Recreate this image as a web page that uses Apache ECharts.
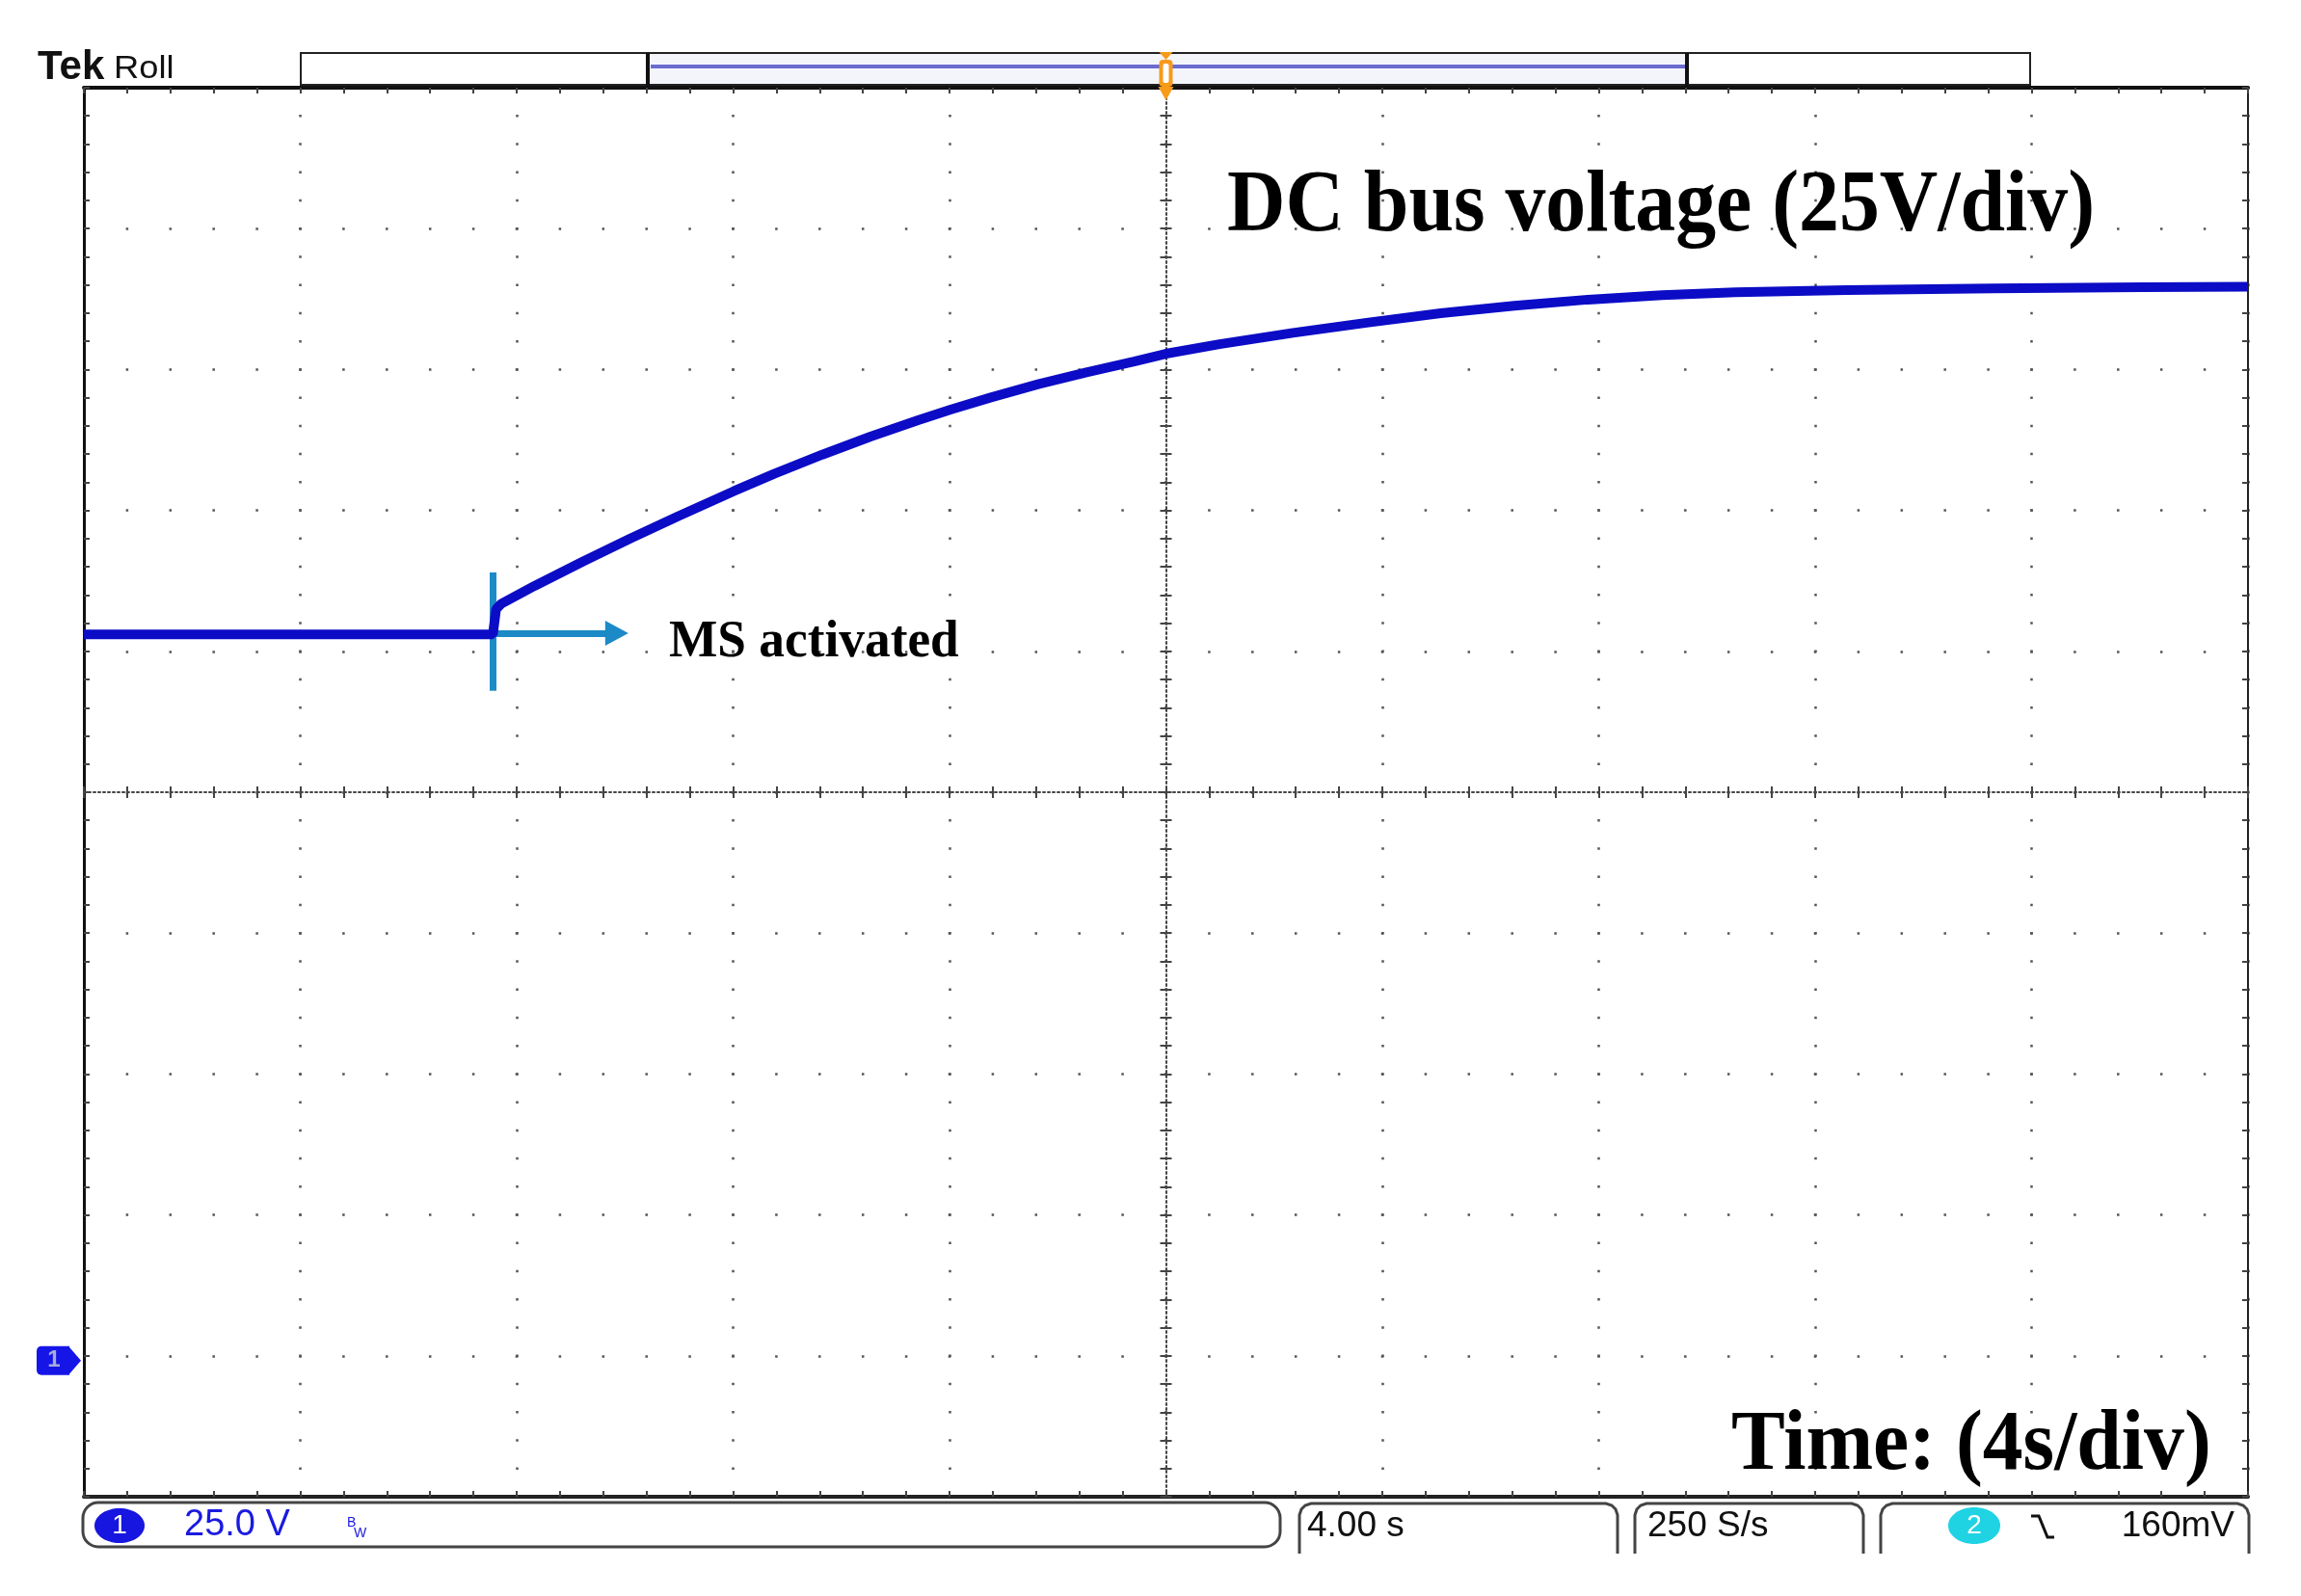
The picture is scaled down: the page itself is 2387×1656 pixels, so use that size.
<!DOCTYPE html>
<html>
<head>
<meta charset="utf-8">
<script src="https://cdn.jsdelivr.net/npm/echarts@6/dist/echarts.min.js"></script>
<style>
html, body { margin: 0; padding: 0; background: #fff; }
#scope { width: 2387px; height: 1656px; }
</style>
</head>
<body>
<div id="scope"></div>
<script>
// trace: time in s (4 s/div), DC bus in V (25 V/div)
const timeS = [0, 2, 4, 6, 7.56, 7.62, 7.71, 8.33, 9.22, 10.1, 10.99, 12.01, 12.76, 13.65, 14.54,
  15.42, 16.02, 16.75, 17.64, 18.53, 19.41, 20.0, 20.99, 22.35, 23.71, 25.08, 26.44, 27.8,
  29.17, 30.53, 32.58, 35.3, 38.03, 40];
const busV = [128, 128, 128, 128, 128, 132.5, 133.4, 136.6, 140.9, 145.0, 149.0, 153.4, 156.5, 159.9, 163.1,
  166.0, 167.9, 170.0, 172.4, 174.5, 176.4, 177.8, 179.5, 181.5, 183.3, 185.0, 186.3, 187.4,
  188.2, 188.7, 189.1, 189.4, 189.6, 189.7];

// screen scale: 10 div across, ground marker 4 div under centre
const xRange = [0, 40, 4];
const yRange = [-25, 225, 25];

// "MS activated" marker
const msTime = 7.56;
const msLevel = 128.2;
const msBar = [118, 139];
const msArrowEnd = 9.85;
const triggerTime = 20;

const G = { left: 87, top: 91, width: 2245, height: 1462 };
const minorX = G.width / 50;
const minorY = G.height / 50;
const tickStyle = { color: '#444', width: 2 };

function xAx(position, offset, line, inside, split) {
  return {
    type: 'value', min: xRange[0], max: xRange[1], interval: xRange[2],
    position: position, offset: offset,
    axisLabel: { show: false },
    axisLine: line ? { show: true, onZero: false, lineStyle: line } : { show: false, onZero: false },
    axisTick: { show: true, inside: inside, length: 6, lineStyle: tickStyle },
    minorTick: { show: true, splitNumber: 5, length: 6, lineStyle: tickStyle },
    splitLine: split ? {
      show: true,
      lineStyle: { color: '#555', width: 2.5, type: [2.5, minorY - 2.5], dashOffset: 1.25 }
    } : { show: false }
  };
}

function yAx(position, offset, line, inside, split) {
  return {
    type: 'value', min: yRange[0], max: yRange[1], interval: yRange[2],
    position: position, offset: offset,
    axisLabel: { show: false },
    axisLine: line ? { show: true, onZero: false, lineStyle: line } : { show: false, onZero: false },
    axisTick: { show: true, inside: inside, length: 6, lineStyle: tickStyle },
    minorTick: { show: true, splitNumber: 5, length: 6, lineStyle: tickStyle },
    splitLine: split ? {
      show: true,
      lineStyle: { color: '#555', width: 2.5, type: [2.5, minorX - 2.5], dashOffset: 1.25 }
    } : { show: false }
  };
}

const centreLine = { color: '#444', width: 2, type: [2, 3] };

const chart = echarts.init(document.getElementById('scope'));

chart.setOption({
  animation: false,
  backgroundColor: '#fff',
  grid: G,
  xAxis: [
    xAx('bottom', 0, { color: '#222', width: 4 }, true, true),
    xAx('top', 0, { color: '#111', width: 4 }, true, false),
    xAx('bottom', -G.height / 2, centreLine, true, false),
    xAx('bottom', -G.height / 2, null, false, false)
  ],
  yAxis: [
    yAx('left', 0, { color: '#111', width: 3 }, true, true),
    yAx('right', 0, { color: '#222', width: 2 }, true, false),
    yAx('left', -G.width / 2, centreLine, true, false),
    yAx('left', -G.width / 2, null, false, false)
  ],
  series: [{
    type: 'line',
    xAxisIndex: 0,
    yAxisIndex: 0,
    data: timeS.map((t, i) => [t, busV[i]]),
    showSymbol: false,
    lineStyle: { color: '#0c0cc6', width: 10 },
    z: 5,
    markLine: {
      silent: true,
      label: { show: false },
      lineStyle: { color: '#1b8ac6', width: 7, type: 'solid' },
      data: [
        [{ coord: [msTime, msBar[0]], symbol: 'none' }, { coord: [msTime, msBar[1]], symbol: 'none' }],
        [{ coord: [msTime, msLevel], symbol: 'none' },
         { coord: [msArrowEnd, msLevel], symbol: 'triangle', symbolSize: [26, 24] }]
      ]
    }
  }]
});

const trig = chart.convertToPixel({ seriesIndex: 0 }, [triggerTime, 0]);
const tx = trig[0];
const gy = trig[1] + 5;
const serif = '"Liberation Serif", "Times New Roman", serif';
const sans = '"Liberation Sans", Arial, sans-serif';

chart.setOption({
  graphic: [
    // header
    { type: 'text', x: 39, y: 70, style: { text: 'Tek', font: 'bold 42px ' + sans, fill: '#111', verticalAlign: 'middle' } },
    { type: 'text', x: 118, y: 72, style: { text: 'Roll', font: '33px ' + sans, fill: '#111', verticalAlign: 'middle' }, scaleX: 1.1 },
    { type: 'rect', shape: { x: 312, y: 55, width: 1794, height: 33 }, style: { fill: '#fff', stroke: '#222', lineWidth: 2 } },
    { type: 'rect', shape: { x: 673, y: 56, width: 1077, height: 31 }, style: { fill: '#f3f5fb' } },
    { type: 'line', shape: { x1: 675, y1: 69, x2: 1748, y2: 69 }, style: { stroke: '#6b6bd0', lineWidth: 4 } },
    { type: 'rect', shape: { x: 670, y: 55, width: 4, height: 34 }, style: { fill: '#111' } },
    { type: 'rect', shape: { x: 1748, y: 55, width: 4, height: 34 }, style: { fill: '#111' } },
    // trigger position marker
    { type: 'polygon', shape: { points: [[tx - 7, 54], [tx + 7, 54], [tx, 62]] }, style: { fill: '#f79a1a' }, z: 20 },
    { type: 'rect', shape: { x: tx - 7, y: 62, width: 14, height: 28, r: 4 }, style: { fill: '#f79a1a' }, z: 20 },
    { type: 'rect', shape: { x: tx - 3, y: 66, width: 6, height: 20, r: 2 }, style: { fill: '#fff' }, z: 21 },
    { type: 'polygon', shape: { points: [[tx - 8, 90], [tx + 8, 90], [tx, 104]] }, style: { fill: '#f79a1a' }, z: 20 },
    // ground marker
    { type: 'rect', shape: { x: 38, y: gy - 15, width: 34, height: 30, r: [5, 0, 0, 5] }, style: { fill: '#1515e8' } },
    { type: 'polygon', shape: { points: [[71, gy - 15], [84, gy], [71, gy + 15]] }, style: { fill: '#1515e8' } },
    { type: 'text', x: 56, y: gy, style: { text: '1', font: 'bold 24px ' + sans, fill: '#a6aadc', align: 'center', verticalAlign: 'middle' } },
    // annotations
    { type: 'text', x: 1273, y: 215, scaleX: 0.91, style: { text: 'DC bus voltage (25V/div)', font: 'bold 92px ' + serif, fill: '#000', verticalAlign: 'middle' }, z: 10 },
    { type: 'text', x: 694, y: 667, scaleX: 0.97, style: { text: 'MS activated', font: 'bold 55px ' + serif, fill: '#000', verticalAlign: 'middle' }, z: 10 },
    { type: 'text', x: 1796, y: 1501, scaleX: 0.95, style: { text: 'Time: (4s/div)', font: 'bold 88px ' + serif, fill: '#000', verticalAlign: 'middle' }, z: 10 },
    // status bar
    { type: 'rect', shape: { x: 86, y: 1559, width: 1242, height: 46, r: 16 }, style: { fill: '#fff', stroke: '#444', lineWidth: 3 } },
    { type: 'ellipse', shape: { cx: 124, cy: 1583, rx: 26, ry: 18 }, style: { fill: '#1616e0' } },
    { type: 'text', x: 124, y: 1583, style: { text: '1', font: '28px ' + sans, fill: '#fff', align: 'center', verticalAlign: 'middle' } },
    { type: 'text', x: 191, y: 1583, style: { text: '25.0 V', font: '38px ' + sans, fill: '#1a1ae0', verticalAlign: 'middle' } },
    { type: 'text', x: 360, y: 1580, style: { text: 'B', font: '14px ' + sans, fill: '#1a1ae0', verticalAlign: 'middle' } },
    { type: 'text', x: 367, y: 1591, style: { text: 'W', font: '14px ' + sans, fill: '#1a1ae0', verticalAlign: 'middle' } },
    { type: 'polyline', shape: { points: [[1348, 1612], [1348, 1572], [1350, 1566], [1354, 1562], [1360, 1560], [1666, 1560], [1672, 1562], [1676, 1566], [1678, 1572], [1678, 1612]] }, style: { stroke: '#444', lineWidth: 3, fill: null } },
    { type: 'text', x: 1356, y: 1584, style: { text: '4.00 s', font: '37px ' + sans, fill: '#111', verticalAlign: 'middle' } },
    { type: 'polyline', shape: { points: [[1696, 1612], [1696, 1572], [1698, 1566], [1702, 1562], [1708, 1560], [1921, 1560], [1927, 1562], [1931, 1566], [1933, 1572], [1933, 1612]] }, style: { stroke: '#444', lineWidth: 3, fill: null } },
    { type: 'text', x: 1709, y: 1584, style: { text: '250 S/s', font: '37px ' + sans, fill: '#111', verticalAlign: 'middle' } },
    { type: 'polyline', shape: { points: [[1951, 1612], [1951, 1572], [1953, 1566], [1957, 1562], [1963, 1560], [2321, 1560], [2327, 1562], [2331, 1566], [2333, 1572], [2333, 1612]] }, style: { stroke: '#444', lineWidth: 3, fill: null } },
    { type: 'ellipse', shape: { cx: 2048, cy: 1583, rx: 27, ry: 19 }, style: { fill: '#1fd3e3' } },
    { type: 'text', x: 2048, y: 1583, style: { text: '2', font: '28px ' + sans, fill: '#fff', align: 'center', verticalAlign: 'middle' } },
    { type: 'polyline', shape: { points: [[2107, 1573], [2115, 1573], [2124, 1595], [2131, 1595]] }, style: { stroke: '#111', lineWidth: 3, fill: null } },
    { type: 'text', x: 2318, y: 1584, style: { text: '160mV', font: '37px ' + sans, fill: '#111', align: 'right', verticalAlign: 'middle' } }
  ]
});
</script>
</body>
</html>
